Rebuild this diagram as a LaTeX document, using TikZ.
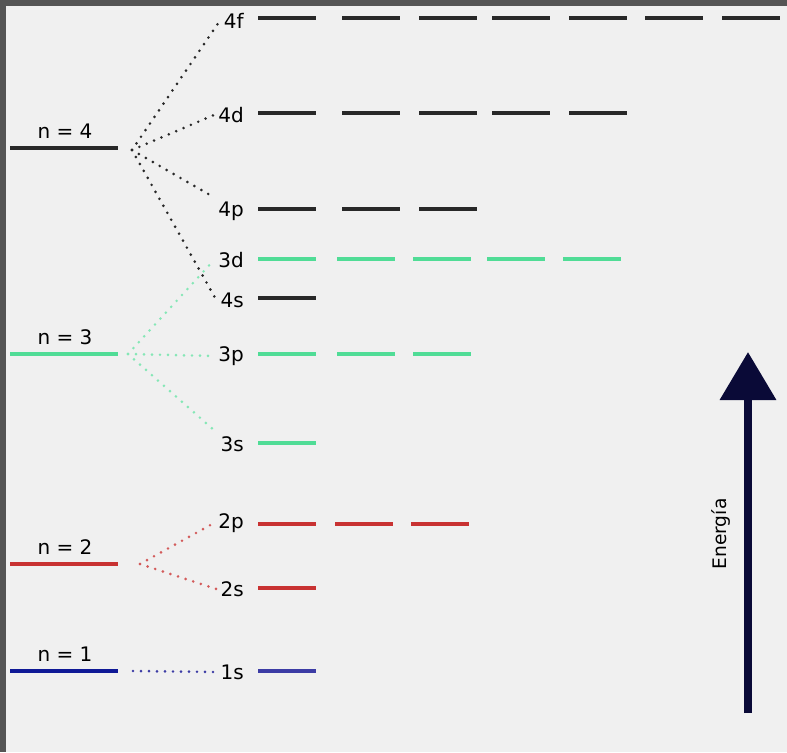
\documentclass[tikz,border=0pt]{standalone}
\usepackage{fontspec}
\setmainfont{DejaVu Sans}
\usetikzlibrary{arrows.meta}
\definecolor{lvlblack}{RGB}{40,40,40}
\definecolor{lvlgreen}{RGB}{80,220,150}
\definecolor{lvlred}{RGB}{200,50,50}
\definecolor{lvlblue}{RGB}{15,25,150}
\definecolor{orbblue}{RGB}{60,60,165}
\definecolor{arrnavy}{RGB}{10,10,55}
\definecolor{paper}{RGB}{240,240,240}
\definecolor{frame}{RGB}{85,85,85}
\tikzstyle{level} = [line width=3pt]
\tikzstyle{orb} = [line width=2.4pt]
\tikzstyle{dots} = [line width=2.2pt, line cap=round, dash pattern=on 0pt off 6pt]
\tikzstyle{nlab} = [font=\fontsize{15}{17}\selectfont, inner sep=1pt]
\tikzstyle{olab} = [font=\fontsize{15}{17}\selectfont, anchor=east, inner sep=3pt]

\begin{document}
\begin{tikzpicture}[x=0.75pt, y=-0.75pt]
    \useasboundingbox (0,0) rectangle (787,752);
    \fill[frame] (0,0) rectangle (787,752);
    \fill[paper] (6,6) rectangle (787,752);

    % shells
    \draw[level, lvlblack] (10,148) -- (118,148);
    \draw[level, lvlgreen] (10,354) -- (118,354);
    \draw[level, lvlred] (10,564) -- (118,564);
    \draw[level, lvlblue] (10,671) -- (118,671);
    \node[nlab] (t4) at (65,131) {n = 4};
    \node[nlab] (t3) at (65,337) {n = 3};
    \node[nlab] (t2) at (65,547) {n = 2};
    \node[nlab] (t1) at (65,654) {n = 1};
    \coordinate (n4) at (132,150);
    \coordinate (n3) at (128,354);
    \coordinate (n2) at (140,564);
    \coordinate (n1) at (133,671);

    % subshell labels
    \node[olab] (l4f) at (248,21) {4f};
    \node[olab] (l4d) at (248,115) {4d};
    \node[olab] (l4p) at (248,211) {4p};
    \node[olab] (l3d) at (248,260) {3d};
    \node[olab] (l4s) at (248,300) {4s};
    \node[olab] (l3p) at (248,356) {3p};
    \node[olab] (l3s) at (248,444) {3s};
    \node[olab] (l2p) at (248,523) {2p};
    \node[olab] (l2s) at (248,589) {2s};
    \node[olab] (l1s) at (248,672) {1s};

    % orbitals
    \foreach \x in {258,342,419,492,569,645,722} \draw[orb, lvlblack] (\x,18) -- ++(58,0);
    \foreach \x in {258,342,419,492,569} \draw[orb, lvlblack] (\x,113) -- ++(58,0);
    \foreach \x in {258,342,419} \draw[orb, lvlblack] (\x,209) -- ++(58,0);
    \foreach \x in {258,337,413,487,563} \draw[orb, lvlgreen] (\x,259) -- ++(58,0);
    \draw[orb, lvlblack] (258,298) -- ++(58,0);
    \foreach \x in {258,337,413} \draw[orb, lvlgreen] (\x,354) -- ++(58,0);
    \draw[orb, lvlgreen] (258,443) -- ++(58,0);
    \foreach \x in {258,335,411} \draw[orb, lvlred] (\x,524) -- ++(58,0);
    \draw[orb, lvlred] (258,588) -- ++(58,0);
    \draw[orb, orbblue] (258,671) -- ++(58,0);

    % splitting
    \draw[dots, lvlblack] (n4) -- (l4f.west);
    \draw[dots, lvlblack] (n4) -- (l4d.west);
    \draw[dots, lvlblack] (n4) -- (l4p.north west);
    \draw[dots, lvlblack] (n4) -- (l4s.west);
    \draw[dots, lvlgreen!70] (n3) -- (l3d.west);
    \draw[dots, lvlgreen!70] (n3) -- (l3p.west);
    \draw[dots, lvlgreen!70] (n3) -- (l3s.north west);
    \draw[dots, lvlred!80] (n2) -- (l2p.west);
    \draw[dots, lvlred!80] (n2) -- (l2s.west);
    \draw[dots, orbblue] (n1) -- (l1s.west);

    % energy axis
    \coordinate (ebot) at (748,713);
    \coordinate (etop) at (748,352);
    \draw[arrnavy, line width=6pt, -{Triangle[length=36pt, width=41pt]}] (ebot) -- (etop);
    \node[rotate=90, font=\fontsize{14}{16}\selectfont] (en) at (721,534) {Energía};
\end{tikzpicture}
\end{document}
